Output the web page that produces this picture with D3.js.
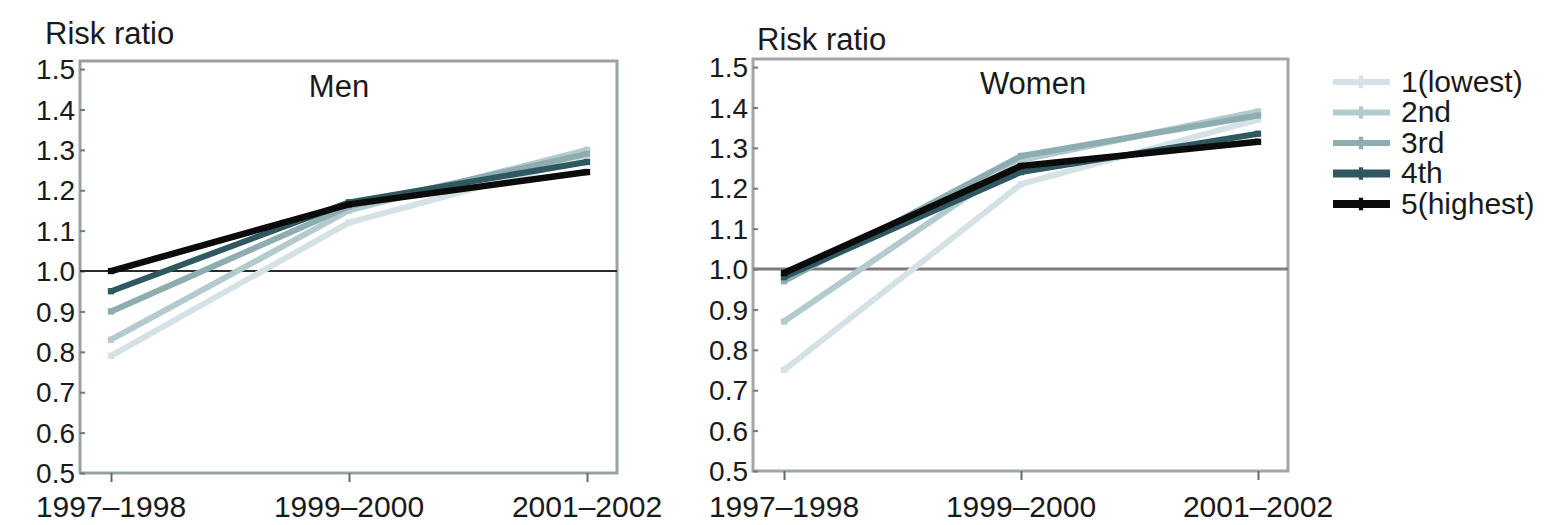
<!DOCTYPE html>
<html>
<head>
<meta charset="utf-8">
<script src="https://cdn.jsdelivr.net/npm/d3@7"></script>
<style>
  html, body { margin: 0; padding: 0; background: #ffffff; }
  svg { display: block; }
  text { font-family: "Liberation Sans", Arial, Helvetica, sans-serif; fill: #1a1a1a; }
</style>
</head>
<body>
<svg id="chart" width="1555" height="525"></svg>
<script>
// Periods on the x axis
const periods = ["1997–1998", "1999–2000", "2001–2002"];

// Income quintiles (legend order)
const quintiles = ["1(lowest)", "2nd", "3rd", "4th", "5(highest)"];
const quintileColors = ["#d5e2e5", "#b3cbcf", "#8eadb1", "#2f5860", "#0b0b0b"];

// Risk ratios, men, one array per quintile across the periods
const menQ1 = [0.79, 1.12, 1.28];
const menQ2 = [0.83, 1.15, 1.30];
const menQ3 = [0.90, 1.16, 1.29];
const menQ4 = [0.95, 1.17, 1.27];
const menQ5 = [1.00, 1.165, 1.245];

// Risk ratios, women
const womenQ1 = [0.75, 1.21, 1.37];
const womenQ2 = [0.87, 1.27, 1.39];
const womenQ3 = [0.97, 1.28, 1.38];
const womenQ4 = [0.98, 1.24, 1.335];
const womenQ5 = [0.99, 1.255, 1.315];

// Y axis ticks
const yTicks = [0.5, 0.6, 0.7, 0.8, 0.9, 1.0, 1.1, 1.2, 1.3, 1.4, 1.5];
const yDomain = [0.5, 1.52];
const refValue = 1.0;

const panels = [
  { title: "Men", series: [menQ1, menQ2, menQ3, menQ4, menQ5],
    x0: 80, x1: 617, y0: 61, y1: 473, refColor: "#2a2a2a", refWidth: 2,
    frameColor: "#98a2a6", titleX: 339, titleY: 97, axisTitleX: 45, axisTitleY: 44 },
  { title: "Women", series: [womenQ1, womenQ2, womenQ3, womenQ4, womenQ5],
    x0: 753, x1: 1288, y0: 59, y1: 471, refColor: "#7d7d7d", refWidth: 3,
    frameColor: "#a3a6a8", titleX: 1033, titleY: 94, axisTitleX: 757, axisTitleY: 50 }
];

const svg = d3.select("#chart");

panels.forEach(p => {
  const x = d3.scalePoint().domain(periods).range([p.x0 + 31, p.x1 - 30]);
  const y = d3.scaleLinear().domain(yDomain).range([p.y1, p.y0]);
  const g = svg.append("g");

  // frame
  g.append("rect")
    .attr("x", p.x0).attr("y", p.y0)
    .attr("width", p.x1 - p.x0).attr("height", p.y1 - p.y0)
    .attr("fill", "none").attr("stroke", p.frameColor).attr("stroke-width", 3);

  // y axis: ticks pointing inward, labels outside
  const yAxis = d3.axisRight(y).tickValues(yTicks).tickSize(5).tickFormat("");
  const ya = g.append("g").attr("transform", `translate(${p.x0},0)`).call(yAxis);
  ya.select(".domain").remove();
  ya.selectAll("line").attr("stroke", "#6f7b80").attr("stroke-width", 2);

  g.selectAll(".ylab").data(yTicks).join("text")
    .attr("x", p.x0 - 5).attr("y", d => y(d))
    .attr("dy", "0.36em").attr("text-anchor", "end")
    .attr("font-size", 28).text(d => d3.format(".1f")(d));

  // x axis: ticks pointing outward
  const xAxis = d3.axisBottom(x).tickSize(9).tickFormat("");
  const xa = g.append("g").attr("transform", `translate(0,${p.y1})`).call(xAxis);
  xa.select(".domain").remove();
  xa.selectAll("line").attr("stroke", "#5e6d70").attr("stroke-width", 2);

  g.selectAll(".xlab").data(periods).join("text")
    .attr("x", d => x(d)).attr("y", 517)
    .attr("text-anchor", "middle").attr("font-size", 30).text(d => d);

  // reference line at 1.0
  g.append("line")
    .attr("x1", p.x0).attr("x2", p.x1)
    .attr("y1", y(refValue)).attr("y2", y(refValue))
    .attr("stroke", p.refColor).attr("stroke-width", p.refWidth);

  // series lines
  const line = d3.line().x((d, i) => x(periods[i])).y(d => y(d));
  p.series.forEach((s, k) => {
    g.append("path").datum(s)
      .attr("d", line)
      .attr("fill", "none")
      .attr("stroke", quintileColors[k])
      .attr("stroke-width", k === 4 ? 6.5 : 6)
      .attr("stroke-linejoin", "round");
    g.selectAll(null).data(s).join("path")
      .attr("transform", (d, i) => `translate(${x(periods[i])},${y(d)})`)
      .attr("d", d3.symbol(d3.symbolSquare, 40))
      .attr("fill", quintileColors[k]);
  });

  // titles
  g.append("text").attr("x", p.titleX).attr("y", p.titleY)
    .attr("text-anchor", "middle").attr("font-size", 31).text(p.title);
  g.append("text").attr("x", p.axisTitleX).attr("y", p.axisTitleY)
    .attr("font-size", 31).text("Risk ratio");
});

// legend
const legend = svg.append("g").attr("transform", "translate(1333,0)");
quintiles.forEach((q, i) => {
  const ly = 81 + i * 30.5;
  legend.append("line")
    .attr("x1", 0).attr("x2", 57).attr("y1", ly + 1).attr("y2", ly + 1)
    .attr("stroke", quintileColors[i]).attr("stroke-width", i >= 3 ? 8 : 6);
  legend.append("path")
    .attr("transform", `translate(28,${ly + 1})`)
    .attr("d", d3.symbol(d3.symbolCross, 90))
    .attr("fill", quintileColors[i]);
  legend.append("text").attr("x", 68).attr("y", ly).attr("dy", "0.36em")
    .attr("font-size", 30).text(q);
});
</script>
</body>
</html>
